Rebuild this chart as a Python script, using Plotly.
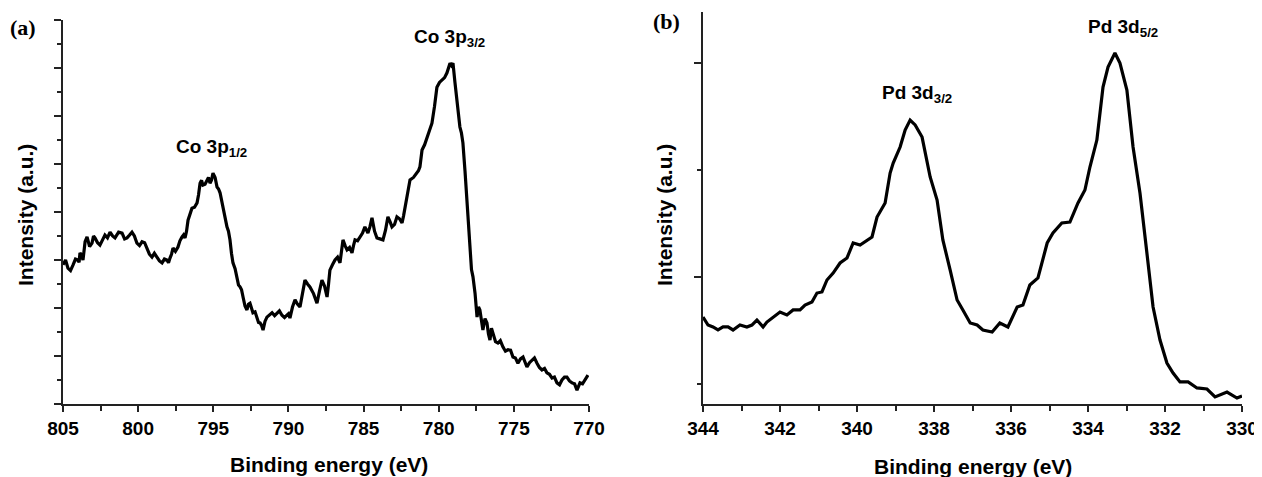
import plotly.graph_objects as go

# ---- (a) Co 3p region ----
co_be = [805.0, 804.83, 804.67, 804.5, 804.33, 804.17, 804.0, 803.93, 803.87, 803.77,
         803.67, 803.53, 803.40, 803.23, 803.07, 802.97, 802.87, 802.7, 802.54, 802.37,
         802.21, 802.04, 801.87, 801.7, 801.54, 801.3, 801.07, 800.9, 800.74, 800.57,
         800.41, 800.25, 800.08, 799.91, 799.74, 799.57, 799.41, 799.25, 799.08, 798.92,
         798.75, 798.58, 798.41, 798.25, 798.08, 797.98, 797.88, 797.78, 797.68, 797.52,
         797.35, 797.22, 797.08, 796.98, 796.88, 796.78, 796.68, 796.55, 796.42, 796.25,
         796.08, 795.98, 795.88, 795.78, 795.69, 795.55, 795.42, 795.32, 795.22, 795.12,
         795.02, 794.88, 794.75, 794.65, 794.55, 794.45, 794.35, 794.22, 794.09, 793.99,
         793.89, 793.79, 793.69, 793.55, 793.42, 793.32, 793.22, 793.12, 793.02, 792.89,
         792.76, 792.66, 792.56, 792.46, 792.36, 792.22, 792.09, 791.99, 791.89, 791.79,
         791.69, 791.56, 791.43, 791.26, 791.09, 790.92, 790.76, 790.6, 790.43, 790.26,
         790.10, 790.0, 789.90, 789.73, 789.56, 789.4, 789.23, 789.06, 788.90, 788.73,
         788.57, 788.33, 788.10, 787.93, 787.77, 787.6, 787.43, 787.33, 787.24, 787.07,
         786.90, 786.73, 786.57, 786.47, 786.37, 786.23, 786.10, 785.93, 785.77, 785.67,
         785.57, 785.4, 785.24, 785.07, 784.91, 784.81, 784.71, 784.57, 784.44, 784.27,
         784.11, 783.91, 783.71, 783.54, 783.38, 783.24, 783.11, 782.94, 782.78, 782.61,
         782.44, 782.34, 782.24, 782.07, 781.91, 781.68, 781.45, 781.35, 781.25, 781.18,
         781.11, 780.94, 780.78, 780.61, 780.45, 780.28, 780.12, 779.95, 779.78, 779.61,
         779.45, 779.35, 779.25, 779.15, 779.05, 778.92, 778.79, 778.69, 778.59, 778.49,
         778.39, 778.25, 778.12, 778.02, 777.92, 777.82, 777.72, 777.58, 777.45, 777.35,
         777.26, 777.16, 777.06, 776.92, 776.79, 776.69, 776.59, 776.49, 776.39, 776.22,
         776.06, 775.9, 775.73, 775.56, 775.39, 775.22, 775.06, 774.9, 774.73, 774.56,
         774.39, 774.26, 774.13, 773.96, 773.80, 773.63, 773.46, 773.3, 773.13, 772.96,
         772.80, 772.63, 772.46, 772.3, 772.13, 771.96, 771.80, 771.63, 771.47, 771.3,
         771.13, 770.96, 770.80, 770.7, 770.60, 770.43, 770.27, 770.17, 770.07]
co_int = [2.90, 3.00, 2.83, 2.78, 2.90, 3.02, 3.00, 2.95, 3.15, 3.10,
          3.00, 3.38, 3.48, 3.28, 3.35, 3.50, 3.46, 3.36, 3.31, 3.44,
          3.52, 3.46, 3.58, 3.50, 3.46, 3.58, 3.56, 3.44, 3.46, 3.52,
          3.58, 3.50, 3.35, 3.30, 3.38, 3.36, 3.25, 3.12, 3.06, 3.14,
          3.06, 2.98, 2.94, 3.02, 3.00, 2.94, 3.04, 3.12, 3.25, 3.18,
          3.27, 3.40, 3.48, 3.52, 3.46, 3.60, 3.83, 3.98, 4.08, 4.10,
          4.19, 4.36, 4.60, 4.66, 4.56, 4.58, 4.67, 4.72, 4.60, 4.66,
          4.81, 4.72, 4.52, 4.48, 4.40, 4.25, 4.04, 3.90, 3.69, 3.60,
          3.42, 3.14, 2.94, 2.82, 2.65, 2.48, 2.44, 2.38, 2.23, 2.04,
          1.96, 2.08, 2.10, 1.98, 1.90, 1.92, 1.81, 1.70, 1.69, 1.64,
          1.54, 1.72, 1.81, 1.86, 1.90, 1.84, 1.90, 1.94, 1.85, 1.80,
          1.85, 1.88, 1.79, 2.02, 2.17, 2.08, 2.02, 2.30, 2.58, 2.50,
          2.44, 2.30, 2.10, 2.36, 2.58, 2.46, 2.23, 2.50, 2.79, 2.90,
          3.00, 3.06, 2.94, 3.18, 3.42, 3.30, 3.21, 3.26, 3.15, 3.30,
          3.42, 3.40, 3.48, 3.56, 3.69, 3.64, 3.56, 3.70, 3.88, 3.60,
          3.46, 3.44, 3.42, 3.62, 3.90, 3.80, 3.69, 3.74, 3.90, 3.86,
          3.77, 3.92, 4.10, 4.40, 4.67, 4.72, 4.81, 4.86, 4.94, 5.10,
          5.29, 5.40, 5.56, 5.72, 5.85, 6.20, 6.60, 6.70, 6.75, 6.80,
          6.90, 7.00, 7.10, 7.05, 7.10, 6.70, 6.33, 6.05, 5.77, 5.65,
          5.44, 4.85, 4.19, 3.60, 3.06, 2.80, 2.65, 2.30, 1.81, 2.02,
          1.96, 1.70, 1.54, 1.78, 1.69, 1.46, 1.33, 1.58, 1.48, 1.30,
          1.27, 1.32, 1.19, 1.10, 1.13, 1.12, 0.98, 0.96, 0.85, 0.94,
          0.98, 0.86, 0.77, 0.86, 0.92, 0.96, 0.85, 0.76, 0.71, 0.74,
          0.65, 0.62, 0.54, 0.56, 0.44, 0.40, 0.50, 0.56, 0.56, 0.48,
          0.44, 0.42, 0.29, 0.36, 0.44, 0.42, 0.50, 0.54, 0.60]

# ---- (b) Pd 3d region ----
pd_be = [344.00, 343.87, 343.74, 343.61, 343.48, 343.35, 343.22, 343.04, 342.86, 342.73,
         342.60, 342.44, 342.34, 342.18, 342.00, 341.82, 341.66, 341.48, 341.35, 341.17,
         341.04, 340.91, 340.78, 340.62, 340.44, 340.26, 340.10, 339.92, 339.74, 339.61,
         339.48, 339.27, 339.14, 339.06, 338.88, 338.75, 338.62, 338.49, 338.31, 338.10,
         337.92, 337.77, 337.58, 337.40, 337.25, 337.06, 336.88, 336.73, 336.49, 336.29,
         336.08, 335.84, 335.69, 335.51, 335.30, 335.06, 334.91, 334.68, 334.47, 334.26,
         334.08, 333.95, 333.77, 333.61, 333.48, 333.30, 333.17, 332.99, 332.83, 332.65,
         332.47, 332.31, 332.13, 331.95, 331.79, 331.61, 331.40, 331.17, 330.91, 330.70,
         330.39, 330.13, 330.00]
pd_int = [1.626, 1.551, 1.533, 1.505, 1.533, 1.533, 1.505, 1.551, 1.533, 1.551,
          1.598, 1.533, 1.579, 1.626, 1.673, 1.645, 1.692, 1.692, 1.738, 1.766,
          1.850, 1.860, 1.972, 2.037, 2.131, 2.178, 2.318, 2.299, 2.346, 2.374,
          2.561, 2.692, 2.972, 3.065, 3.215, 3.374, 3.467, 3.421, 3.308, 2.935,
          2.720, 2.346, 2.065, 1.785, 1.692, 1.570, 1.551, 1.505, 1.486, 1.570,
          1.533, 1.720, 1.738, 1.925, 1.991, 2.318, 2.411, 2.505, 2.514, 2.692,
          2.813, 3.028, 3.280, 3.776, 3.963, 4.093, 4.000, 3.748, 3.215, 2.785,
          2.224, 1.720, 1.411, 1.196, 1.103, 1.019, 1.019, 0.963, 0.953, 0.879,
          0.925, 0.869, 0.888]

co_ticks = [805, 800, 795, 790, 785, 780, 775, 770]
pd_ticks = [344, 342, 340, 338, 336, 334, 332, 330]

peaks_a = [("Co 3p<sub>1/2</sub>", 795.09, 5.33), ("Co 3p<sub>3/2</sub>", 779.25, 7.63)]
peaks_b = [("Pd 3d<sub>3/2</sub>", 338.44, 3.71), ("Pd 3d<sub>5/2</sub>", 333.09, 4.33)]

FONT = "Liberation Sans, Arial, sans-serif"
SERIF = "Liberation Serif, Times New Roman, serif"
AX = "#222222"

# page body adds an 8px offset; figure drawn at 1254x469 so the page fills 1262x477
W, H, OFF = 1254, 469, 8


def fx(p):
    return (p - OFF) / W


def fy(p):
    return 1 - (p - OFF) / H


fig = go.Figure()
fig.add_trace(go.Scatter(x=co_be, y=co_int, mode="lines",
                         line=dict(color="black", width=3.2), xaxis="x", yaxis="y",
                         showlegend=False))
fig.add_trace(go.Scatter(x=pd_be, y=pd_int, mode="lines",
                         line=dict(color="black", width=3.2), xaxis="x2", yaxis="y2",
                         showlegend=False))

common_x = dict(showline=True, linecolor=AX, linewidth=2, ticks="outside", ticklen=6,
                tickwidth=1.5, tickcolor=AX, showgrid=False, zeroline=False,
                automargin=False,
                tickfont=dict(family=FONT, size=19, color="black", weight="bold"))
common_y = dict(showline=True, linecolor=AX, linewidth=2, ticks="outside", ticklen=7,
                tickwidth=1.5, tickcolor=AX, showgrid=False, zeroline=False,
                automargin=False, showticklabels=False)

fig.update_layout(
    template="none",
    width=W, height=H,
    margin=dict(l=0, r=0, t=0, b=0, pad=0, autoexpand=False),
    paper_bgcolor="white", plot_bgcolor="white",
    xaxis=dict(domain=[fx(63), fx(589)], range=[805, 770], anchor="y",
               tickvals=co_ticks,
               minor=dict(dtick=2.5, tick0=770, ticks="outside", ticklen=5,
                          tickwidth=1.5, tickcolor=AX, showgrid=False),
               **common_x),
    yaxis=dict(domain=[fy(404), fy(20)], range=[0, 8], anchor="x",
               tick0=0, dtick=1,
               minor=dict(dtick=0.5, tick0=0, ticks="outside", ticklen=4,
                          tickwidth=1.5, tickcolor=AX, showgrid=False),
               **common_y),
    xaxis2=dict(domain=[fx(703), fx(1242)], range=[344, 330], anchor="y2",
                tickvals=pd_ticks,
                minor=dict(dtick=1, tick0=330, ticks="outside", ticklen=5,
                           tickwidth=1.5, tickcolor=AX, showgrid=False),
                **common_x),
    yaxis2=dict(domain=[fy(404), fy(12)], range=[0.813, 4.477], anchor="x2",
                tick0=0, dtick=2,
                minor=dict(dtick=1, tick0=0, ticks="outside", ticklen=4,
                           tickwidth=1.5, tickcolor=AX, showgrid=False),
                **common_y),
)

anns = []
for txt, xv, yv in peaks_a:
    anns.append(dict(text=txt, x=xv, y=yv, xref="x", yref="y", showarrow=False,
                     xanchor="center", yanchor="middle",
                     font=dict(family=FONT, size=19, color="black", weight="bold")))
for txt, xv, yv in peaks_b:
    anns.append(dict(text=txt, x=xv, y=yv, xref="x2", yref="y2", showarrow=False,
                     xanchor="center", yanchor="middle",
                     font=dict(family=FONT, size=19, color="black", weight="bold")))

title_font = dict(family=FONT, size=21, color="black", weight="bold")
anns += [
    dict(text="Binding energy (eV)", x=fx(329), y=fy(464), xref="paper", yref="paper",
         showarrow=False, xanchor="center", yanchor="middle", font=title_font),
    dict(text="Binding energy (eV)", x=fx(973), y=fy(466), xref="paper", yref="paper",
         showarrow=False, xanchor="center", yanchor="middle", font=title_font),
    dict(text="Intensity (a.u.)", x=fx(25), y=fy(215), xref="paper", yref="paper",
         showarrow=False, xanchor="center", yanchor="middle", textangle=-90, font=title_font),
    dict(text="Intensity (a.u.)", x=fx(664), y=fy(215), xref="paper", yref="paper",
         showarrow=False, xanchor="center", yanchor="middle", textangle=-90, font=title_font),
    dict(text="(a)", x=fx(23), y=fy(28), xref="paper", yref="paper",
         showarrow=False, xanchor="center", yanchor="middle",
         font=dict(family=SERIF, size=22, color="black", weight="bold")),
    dict(text="(b)", x=fx(666), y=fy(21), xref="paper", yref="paper",
         showarrow=False, xanchor="center", yanchor="middle",
         font=dict(family=SERIF, size=22, color="black", weight="bold")),
]
fig.update_layout(annotations=anns)

fig.write_html("out.html")
